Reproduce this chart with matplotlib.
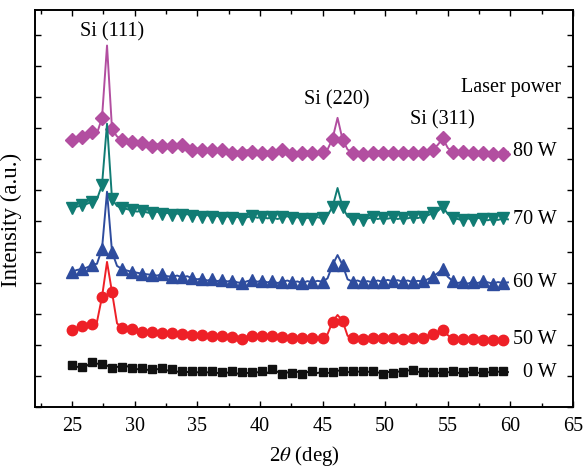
import numpy as np
import matplotlib
matplotlib.use("Agg")
import matplotlib.pyplot as plt
from matplotlib.ticker import MultipleLocator

# 2theta sampling (deg): 25.0 ... 59.8 in 0.4 steps
two_theta = [round(25.0 + 0.4 * i, 1) for i in range(88)]

w80 = [8.60, 8.66, 8.70, 8.72, 8.85, 8.82, 9.32, 11.65, 8.95, 8.72,
       8.62, 8.58, 8.55, 8.48, 8.52, 8.45, 8.42, 8.47, 8.40, 8.36,
       8.42, 8.38, 8.45, 8.35, 8.30, 8.33, 8.28, 8.25, 8.30, 8.24,
       8.27, 8.22, 8.18, 8.24, 8.20, 8.28, 8.22, 8.26, 8.20, 8.24,
       8.18, 8.22, 8.30, 8.20, 8.15, 8.22, 8.18, 8.24, 8.20, 8.16,
       8.22, 8.30, 8.65, 9.32, 8.62, 8.30, 8.20, 8.24, 8.17, 8.22,
       8.18, 8.26, 8.20, 8.25, 8.18, 8.24, 8.20, 8.26, 8.19, 8.24,
       8.20, 8.27, 8.30, 8.45, 8.66, 8.35, 8.22, 8.16, 8.22, 8.15,
       8.20, 8.24, 8.18, 8.22, 8.16, 8.20, 8.17, 8.22]

w70 = [6.40, 6.46, 6.50, 6.55, 6.62, 6.70, 7.16, 9.13, 6.70, 6.48,
       6.42, 6.38, 6.34, 6.30, 6.33, 6.27, 6.25, 6.30, 6.22, 6.26,
       6.20, 6.24, 6.18, 6.22, 6.16, 6.20, 6.14, 6.18, 6.12, 6.16,
       6.10, 6.15, 6.08, 6.13, 6.07, 6.12, 6.16, 6.10, 6.14, 6.08,
       6.12, 6.06, 6.11, 6.15, 6.08, 6.12, 6.06, 6.10, 6.07, 6.12,
       6.08, 6.18, 6.45, 7.06, 6.45, 6.14, 6.06, 6.10, 6.03, 6.08,
       6.12, 6.06, 6.10, 6.07, 6.11, 6.06, 6.10, 6.08, 6.13, 6.09,
       6.14, 6.18, 6.25, 6.32, 6.46, 6.22, 6.10, 6.06, 6.02, 6.08,
       6.04, 6.10, 6.06, 6.02, 6.07, 6.03, 6.08, 6.05]

w60 = [4.36, 4.42, 4.45, 4.50, 4.58, 4.62, 5.10, 6.94, 5.00, 4.55,
       4.45, 4.40, 4.36, 4.33, 4.30, 4.28, 4.26, 4.24, 4.28, 4.22,
       4.20, 4.24, 4.18, 4.22, 4.15, 4.12, 4.14, 4.08, 4.12, 4.06,
       4.10, 4.05, 4.08, 4.02, 4.00, 4.06, 4.10, 4.04, 4.08, 4.02,
       4.06, 4.00, 4.04, 4.08, 4.02, 4.05, 4.00, 4.06, 4.02, 4.07,
       4.04, 4.15, 4.58, 4.90, 4.58, 4.12, 4.04, 4.08, 4.02, 4.06,
       4.02, 4.08, 4.04, 4.10, 4.05, 4.09, 4.04, 4.08, 4.03, 4.07,
       4.05, 4.12, 4.20, 4.32, 4.44, 4.20, 4.06, 4.00, 4.04, 3.98,
       4.04, 4.00, 4.06, 4.02, 3.98, 4.03, 4.00, 4.02]

w50 = [2.48, 2.56, 2.62, 2.64, 2.68, 2.75, 3.55, 4.68, 3.70, 2.70,
       2.56, 2.50, 2.52, 2.45, 2.42, 2.40, 2.42, 2.38, 2.40, 2.36,
       2.38, 2.34, 2.36, 2.40, 2.34, 2.30, 2.32, 2.28, 2.30, 2.26,
       2.28, 2.24, 2.27, 2.22, 2.20, 2.26, 2.30, 2.26, 2.30, 2.25,
       2.28, 2.24, 2.26, 2.22, 2.24, 2.20, 2.24, 2.20, 2.22, 2.24,
       2.22, 2.35, 2.75, 2.97, 2.78, 2.30, 2.22, 2.26, 2.20, 2.24,
       2.22, 2.28, 2.24, 2.26, 2.22, 2.24, 2.20, 2.24, 2.22, 2.26,
       2.24, 2.28, 2.35, 2.42, 2.50, 2.32, 2.20, 2.16, 2.20, 2.14,
       2.18, 2.22, 2.16, 2.20, 2.15, 2.18, 2.16, 2.17]

w0 = [1.36, 1.30, 1.28, 1.34, 1.44, 1.40, 1.40, 1.34, 1.26, 1.30,
      1.28, 1.32, 1.26, 1.22, 1.26, 1.20, 1.24, 1.22, 1.26, 1.18,
      1.22, 1.14, 1.18, 1.13, 1.17, 1.12, 1.16, 1.12, 1.15, 1.10,
      1.14, 1.11, 1.15, 1.08, 1.12, 1.10, 1.14, 1.12, 1.18, 1.10,
      1.22, 1.14, 1.06, 1.12, 1.10, 1.14, 1.08, 1.13, 1.16, 1.10,
      1.14, 1.10, 1.12, 1.18, 1.16, 1.12, 1.17, 1.14, 1.16, 1.13,
      1.18, 1.12, 1.08, 1.14, 1.10, 1.15, 1.12, 1.18, 1.20, 1.14,
      1.12, 1.16, 1.13, 1.10, 1.14, 1.12, 1.16, 1.10, 1.13, 1.12,
      1.15, 1.10, 1.14, 1.12, 1.16, 1.14, 1.15, 1.13]

series_labels = ["80 W", "70 W", "60 W", "50 W", "0 W"]
peak_labels = ["Si (111)", "Si (220)", "Si (311)"]
peak_pos = [28.2, 46.1, 54.6]
peak_lab_y = [12.1, 9.9, 9.26]

plt.rcParams['font.family'] = ['Liberation Serif', 'DejaVu Serif']
plt.rcParams['mathtext.fontset'] = 'stix'
FS = 14.5

fig = plt.figure(figsize=(5.83, 4.68), dpi=100)
ax = fig.add_axes([0.060, 0.130, 0.923, 0.849])

styles = [
    (w80, '#B24EA0', 'D', 7.5),
    (w70, '#117C74', 'v', 8.5),
    (w60, '#2E4C9E', '^', 8.5),
    (w50, '#EE2027', 'o', 7.5),
    (w0, '#111111', 's', 6.0),
]
for (vals, col, mk, ms), lab in zip(styles, series_labels):
    ax.plot(two_theta, vals, color=col, lw=1.4, marker=mk, ms=ms,
            markevery=2, mec=col, mfc=col)
    ax.text(63.7, vals[-1], lab, fontsize=FS, va='center', ha='right')

for lab, px, py in zip(peak_labels, peak_pos, peak_lab_y):
    ax.text(px, py, lab, fontsize=FS, ha='center', va='center')
ax.text(64.0, 10.3, "Laser power", fontsize=FS, ha='right', va='center')

ax.set_xlim(22.05, 65)
ax.set_ylim(0, 12.8)
ax.xaxis.set_major_locator(MultipleLocator(5))
ax.xaxis.set_minor_locator(MultipleLocator(2.5))
ax.yaxis.set_major_locator(MultipleLocator(1))
ax.set_yticklabels([])
ax.tick_params(which='both', direction='in', top=True, right=True,
               labelsize=FS, width=1.0)
ax.tick_params(axis='x', which='major', pad=7)
ax.tick_params(which='major', length=4.5)
ax.tick_params(which='minor', length=3)
for s in ax.spines.values():
    s.set_linewidth(1.4)

ax.set_xlabel(r"2$\theta$ (deg)", fontsize=15)
ax.xaxis.set_label_coords(0.5, -0.093)
ax.set_ylabel("Intensity (a.u.)", fontsize=16.5)
ax.yaxis.set_label_coords(-0.024, 0.47)

fig.savefig("out.png", dpi=100)
